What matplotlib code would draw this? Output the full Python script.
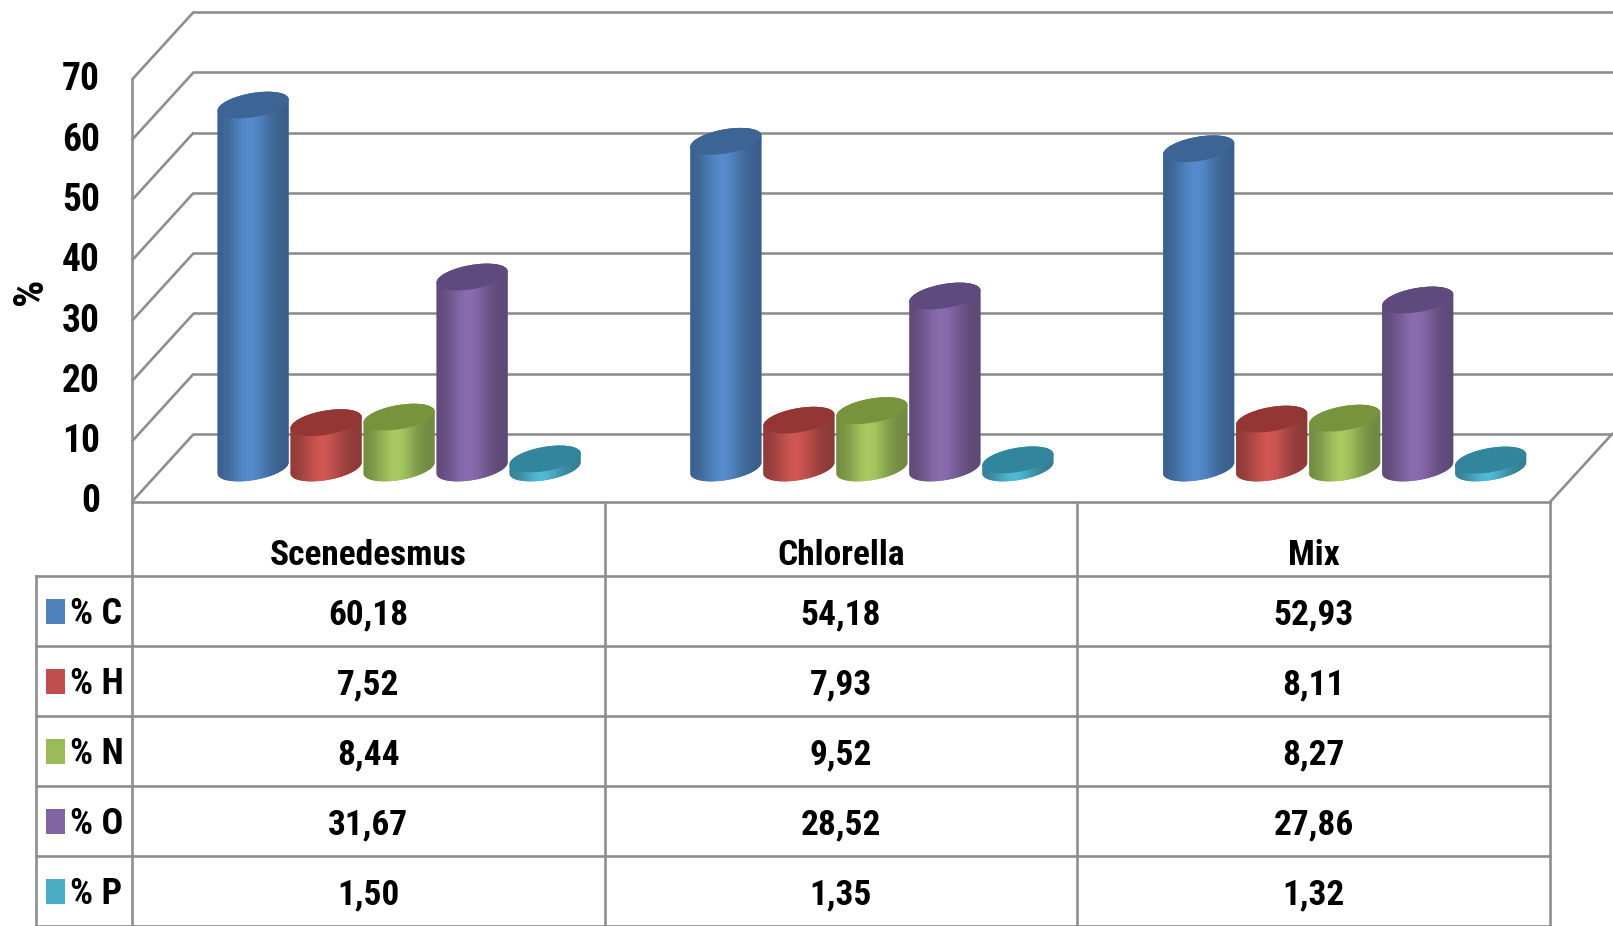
import numpy as np
import matplotlib.pyplot as plt
from matplotlib import font_manager
from matplotlib.patches import Polygon, Rectangle
from matplotlib.colors import to_rgb

# narrow bold font (Calibri-like); take the first one that is installed
narrow_keys = ['LiberationSansNarrow-Bold', 'RobotoCondensed-Bold', 'OpenSans_Condensed-Bold',
               'OpenSansCondensed-Bold', 'OpenSans-CondBold', 'DejaVuSansCondensed-Bold']
font_file = None
for key in narrow_keys:
    for f in font_manager.fontManager.ttflist:
        if key.lower() in f.fname.lower().replace(' ', ''):
            font_file = f.fname
            break
    if font_file:
        break
if font_file:
    FP = dict(fontproperties=font_manager.FontProperties(fname=font_file))
else:
    FP = dict(family=['Liberation Sans', 'DejaVu Sans'], fontweight='bold', fontstretch='condensed')

# data
categories = ["Scenedesmus", "Chlorella", "Mix"]
series = ["% C", "% H", "% N", "% O", "% P"]
pct_c = [60.18, 54.18, 52.93]
pct_h = [7.52, 7.93, 8.11]
pct_n = [8.44, 9.52, 8.27]
pct_o = [31.67, 28.52, 27.86]
pct_p = [1.50, 1.35, 1.32]
values = [pct_c, pct_h, pct_n, pct_o, pct_p]
yticks = [0, 10, 20, 30, 40, 50, 60, 70]

body_colors = ["#4f81bd", "#c0504d", "#9bbb59", "#8064a2", "#4bacc6"]
top_colors = ["#3c6494", "#943634", "#77933c", "#5f4a7e", "#31859c"]
grid_col = "#8e8e8e"

# layout (pixels)
W, H = 1613, 926
x0_px, sx = 131.7, 472.8      # front-left corner, px per category
y0_px, sy = 424.0, 6.03       # front zero (from bottom), px per %
depth_px = (62, 68)           # 3d depth offset
ddx, ddy = depth_px[0] / sx, depth_px[1] / sy


def txt(axis, x, y, s, size, **kw):
    t = axis.text(x, y, s, **kw)
    if 'fontproperties' in FP:
        t.set_fontproperties(FP['fontproperties'])
    else:
        t.update(FP)
    t.set_fontsize(size)
    return t


fig = plt.figure(figsize=(W / 100, H / 100), dpi=100)
ax = fig.add_axes([0, 0, 1, 1])
xlim = (-x0_px / sx, (W - x0_px) / sx)
ylim = (-y0_px / sy, (H - y0_px) / sy)
ax.axis('off')

lw = 1.9
# walls and gridlines
for v in yticks:
    ax.plot([0, ddx], [v, v + ddy], color=grid_col, lw=lw, solid_capstyle='butt')
    ax.plot([ddx, xlim[1]], [v + ddy, v + ddy], color=grid_col, lw=lw)
ax.plot([0, 0], [0, yticks[-1]], color=grid_col, lw=lw)
ax.plot([0, 3], [0, 0], color=grid_col, lw=lw)
ax.plot([3, 3 + ddx], [0, ddy], color=grid_col, lw=lw)

for v in yticks:
    txt(ax, -0.067, v, str(v), 27, ha='right', va='center')
txt(ax, -0.215, 35, "%", 31, rotation=90, ha='center', va='center')


def cylinder(xc, v0, v1, color, top, z):
    t = np.linspace(0, 2 * np.pi, 240, endpoint=False)
    a, b, th = 36.0, 12.0, np.radians(10)
    ex = a * np.cos(t) * np.cos(th) - b * np.sin(t) * np.sin(th)
    ey = a * np.cos(t) * np.sin(th) + b * np.sin(t) * np.cos(th)
    ny = np.sin(th) * np.cos(t) / a + np.cos(th) * np.sin(t) / b
    h = (v1 - v0) * sy
    hull = np.column_stack([xc + ex / sx, v0 + (ey + np.where(ny > 0, h, 0)) / sy])
    body = Polygon(hull, closed=True, facecolor=color, edgecolor='none', zorder=z)
    ax.add_patch(body)
    u = np.linspace(0, 1, 80)
    m = 0.72 + 0.36 * np.exp(-((u - 0.45) / 0.28) ** 2)
    rgb = np.clip(np.outer(m, to_rgb(color)), 0, 1)[None, :, :]
    im = ax.imshow(rgb, extent=[xc - a / sx, xc + a / sx, v0 - 20 / sy, v1 + 20 / sy],
                   aspect='auto', zorder=z + 0.1, interpolation='bilinear')
    im.set_clip_path(body)
    cap = np.column_stack([xc + ex / sx, v1 + ey / sy])
    ax.add_patch(Polygon(cap, closed=True, facecolor=top, edgecolor='none', zorder=z + 0.2))


bar_step = 73 / sx
for c in range(len(categories)):
    center = c + 0.5 + ddx / 2
    for s in range(len(series)):
        xc = center + (s - 2) * bar_step
        cylinder(xc, ddy / 2, values[s][c] + ddy / 2, body_colors[s], top_colors[s], 3 + s)

ax.set_xlim(xlim)
ax.set_ylim(ylim)

# data table
hh = 74 / 70
nrow = len(series)
tax = fig.add_axes([0, 0, 1, y0_px / H])
tax.axis('off')
tax.set_xlim(xlim)
tax.set_ylim(hh + nrow, 0)
xleft = (36 - x0_px) / sx
for c in range(len(categories) + 1):
    tax.plot([c, c], [0, hh + nrow], color=grid_col, lw=lw)
tax.plot([xleft, xleft], [hh, hh + nrow], color=grid_col, lw=lw)
for r in range(nrow + 1):
    tax.plot([xleft, 3], [hh + r, hh + r], color=grid_col, lw=lw)

for c, cat in enumerate(categories):
    txt(tax, c + 0.5, hh * 0.72, cat, 25.5, ha='center', va='center')
    for s in range(nrow):
        label = f"{values[s][c]:.2f}".replace('.', ',')
        txt(tax, c + 0.5, hh + s + 0.56, label, 25.5, ha='center', va='center')

for s, name in enumerate(series):
    yc = hh + s + 0.5
    tax.add_patch(Rectangle(((46 - x0_px) / sx, yc - 0.17), 19 / sx, 0.36,
                            facecolor=body_colors[s], edgecolor='none'))
    txt(tax, (70 - x0_px) / sx, yc + 0.04, name, 26, ha='left', va='center')

fig.savefig("out.png", dpi=100)
